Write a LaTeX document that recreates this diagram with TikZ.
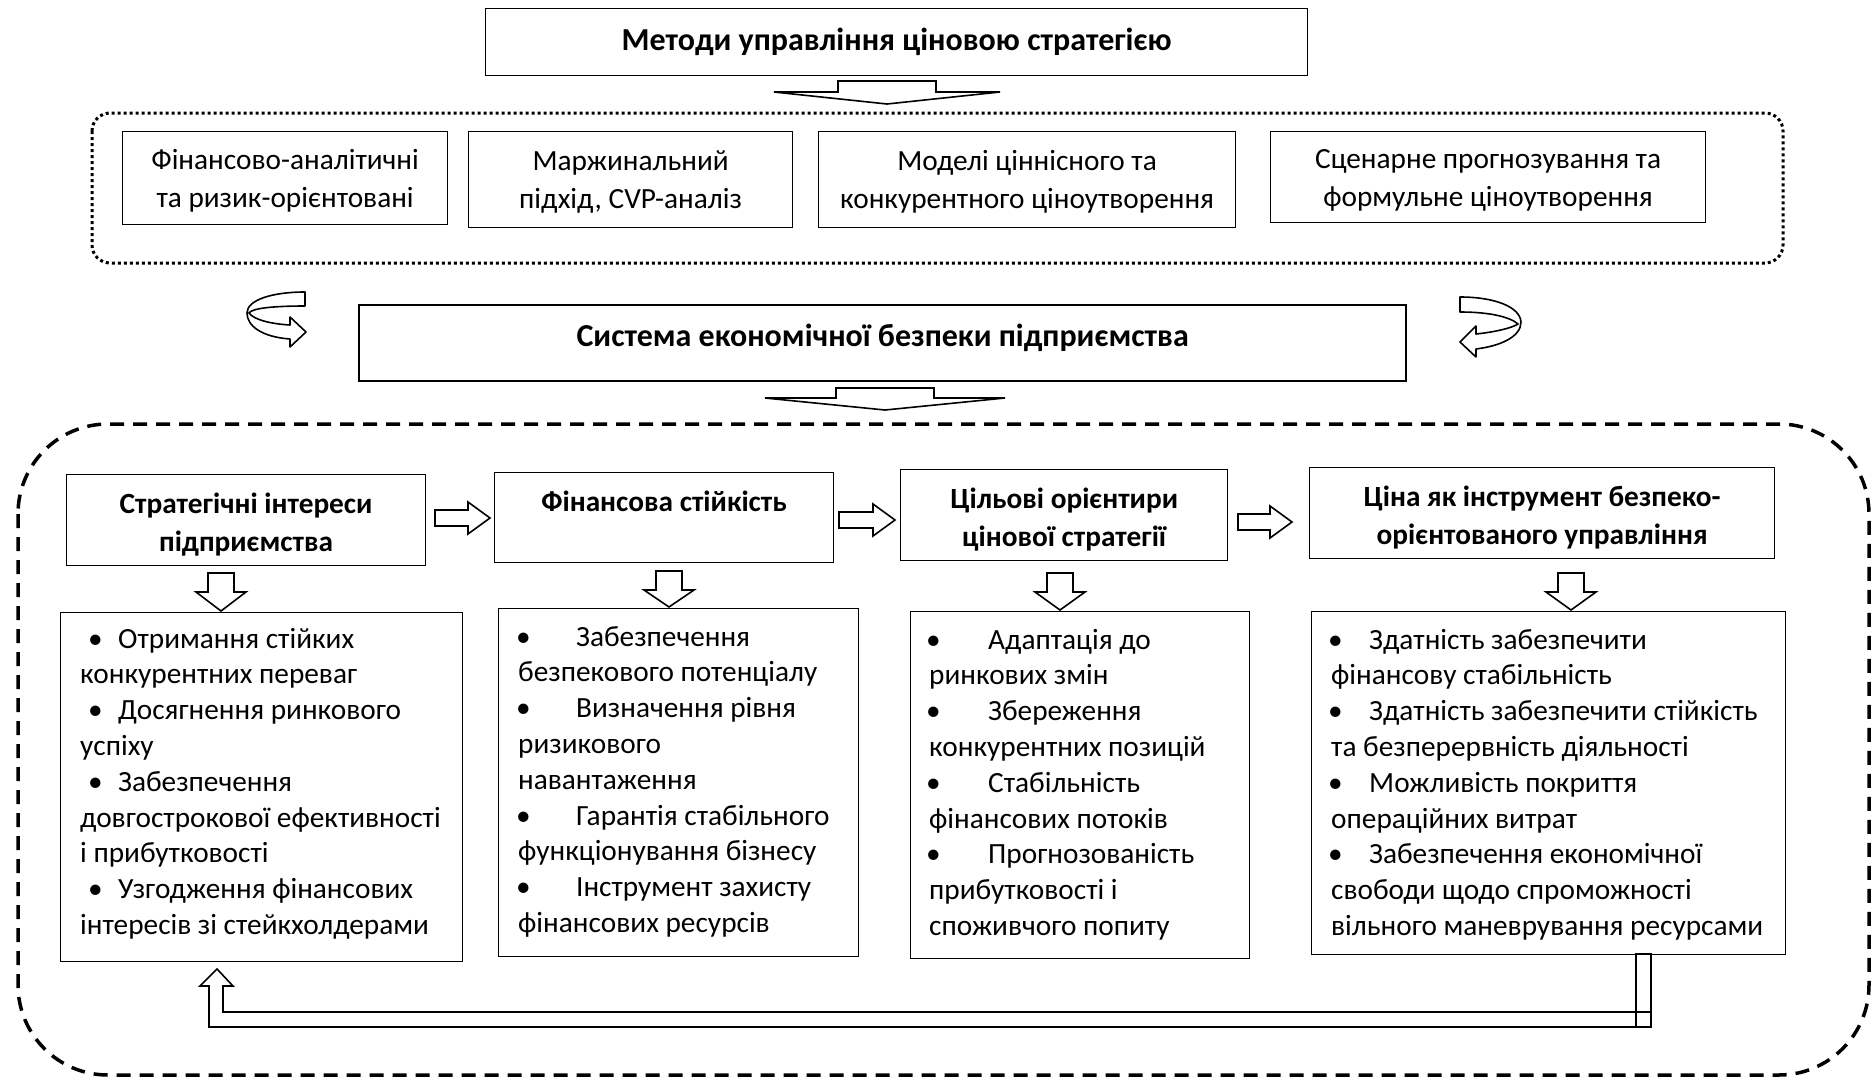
\documentclass[tikz,border=0pt]{standalone}
\usepackage{fontspec}
\setmainfont{Carlito}
\newcommand{\darr}[6]{% cx, top, shaft bottom, tip, shaft half, head half
  \draw[arr] (#1-#5,#2) -- (#1+#5,#2) -- (#1+#5,#3) -- (#1+#6,#3) -- (#1,#4) -- (#1-#6,#3) -- (#1-#5,#3) -- cycle;}
\newcommand{\rarr}[6]{% left x, cy, shaft end x, tip x, shaft half, head half
  \draw[arr] (#1,#2-#5) -- (#3,#2-#5) -- (#3,#2-#6) -- (#4,#2) -- (#3,#2+#6) -- (#3,#2+#5) -- (#1,#2+#5) -- cycle;}
\newcommand{\bt}[2]{\makebox[#2][l]{\hspace{#1}•}}
\newcommand{\hup}{\rule{0pt}{30pt}}
\newcommand{\mup}{\rule{0pt}{25pt}}
\begin{document}
\begin{tikzpicture}[x=1pt,y=-1pt,
  bx/.style={draw, line width=1.2pt, inner sep=0pt, align=center, anchor=north west, font=\fontsize{29.3}{38}\selectfont},
  hd/.style={bx, font=\bfseries\fontsize{29.3}{38}\selectfont},
  big/.style={bx, font=\bfseries\fontsize{32}{38}\selectfont},
  tx/.style={inner sep=0pt, anchor=base west, font=\fontsize{29.3}{35.8}\selectfont},
  arr/.style={draw, line width=1.6pt, line join=miter, fill=white},
  curv/.style={draw, line width=1.6pt, fill=white, line join=round}]
\fill[white] (0,0) rectangle (1872,1079);
\useasboundingbox (0,0) rectangle (1872,1079);

% top title
\node[big, minimum width=822pt, minimum height=67pt] (title) at (485,8) {Методи управління ціновою стратегією};
\darr{887}{81}{92}{104}{49}{113}

% dotted group
\draw[line width=3pt, dash pattern=on 3pt off 3pt, rounded corners=18pt] (92,113) rectangle (1783,263);
\node[bx, minimum width=325pt, minimum height=93pt] (m1) at (122,131) {\mup Фінансово-аналітичні\\та ризик-орієнтовані};
\node[bx, minimum width=324pt, minimum height=96pt] (m2) at (468,131) {\mup Маржинальний\\підхід, CVP-аналіз};
\node[bx, minimum width=417pt, minimum height=96pt] (m3) at (818,131) {\mup Моделі ціннісного та\\конкурентного ціноутворення};
\node[bx, minimum width=435pt, minimum height=91pt] (m4) at (1270,131) {\mup Сценарне прогнозування та\\формульне ціноутворення};

% curved arrows
\draw[curv] (305,292) -- (305,306) .. controls (275,306) and (252,308) .. (249,313)
  .. controls (254,320) and (272,324) .. (290,325) -- (290,317) -- (306,332) -- (290,347) -- (290,339)
  .. controls (262,337) and (247,326) .. (247,313) .. controls (247,300) and (272,292) .. (305,292) -- cycle;
\draw[curv] (1460,297) .. controls (1495,297) and (1520,307) .. (1521,322)
  .. controls (1521,337) and (1500,346) .. (1476,349) -- (1476,357) -- (1460,342) -- (1476,326) -- (1476,334)
  .. controls (1495,332) and (1512,328) .. (1518,324) .. controls (1510,317) and (1490,312) .. (1460,312) -- cycle;

% middle box
\node[big, line width=2.4pt, minimum width=1047pt, minimum height=76pt] (sys) at (358,304) {\rule[-16pt]{0pt}{16pt}Система економічної безпеки підприємства};
\darr{885}{388}{398}{410}{49}{120}

% dashed group
\draw[line width=3.5pt, dash pattern=on 14pt off 9pt, rounded corners=90pt] (18,424) rectangle (1869,1075);

% header boxes
\node[hd, minimum width=359pt, minimum height=91pt] (hA) at (66,474) {\hup Стратегічні інтереси\\підприємства};
\node[hd, minimum width=339pt, minimum height=90pt] (hB) at (494,472) {\hup Фінансова стійкість\\\vphantom{р}};
\node[hd, minimum width=327pt, minimum height=91pt] (hC) at (900,469) {\hup Цільові орієнтири\\цінової стратегії};
\node[hd, minimum width=465pt, minimum height=91pt] (hD) at (1309,467) {\hup Ціна як інструмент безпеко-\\орієнтованого управління};

\rarr{435}{518}{468}{490}{8}{16}
\rarr{839}{520}{873}{895}{8}{16}
\rarr{1238}{522}{1270}{1292}{8}{16}

% content boxes
\node[bx, minimum width=402pt, minimum height=349pt] (cA) at (60,612) {};
\node[bx, minimum width=360pt, minimum height=348pt] (cB) at (498,608) {};
\node[bx, minimum width=339pt, minimum height=347pt] (cC) at (910,611) {};
\node[bx, minimum width=474pt, minimum height=343pt] (cD) at (1311,611) {};

\darr{221}{573}{592}{611}{13}{25}
\darr{669}{571}{590}{607}{13}{25}
\darr{1060}{573}{592}{610}{13}{25}
\darr{1571}{573}{592}{610}{13}{25}

% texts A
\node[tx] (a1) at (80,648) {\bt{8pt}{38pt}Отримання стійких};
\node[tx] (a2) at (80,683.8) {конкурентних переваг};
\node[tx] (a3) at (80,719.6) {\bt{8pt}{38pt}Досягнення ринкового};
\node[tx] (a4) at (80,755.4) {успіху};
\node[tx] (a5) at (80,791.2) {\bt{8pt}{38pt}Забезпечення};
\node[tx] (a6) at (80,827) {довгострокової ефективності};
\node[tx] (a7) at (80,862.8) {і прибутковості};
\node[tx] (a8) at (80,898.6) {\bt{8pt}{38pt}Узгодження фінансових};
\node[tx] (a9) at (80,934.4) {інтересів зі стейкхолдерами};

% texts B
\node[tx] (b1) at (518,646) {\bt{-2pt}{58pt}Забезпечення};
\node[tx] (b2) at (518,681.8) {безпекового потенціалу};
\node[tx] (b3) at (518,717.6) {\bt{-2pt}{58pt}Визначення рівня};
\node[tx] (b4) at (518,753.4) {ризикового};
\node[tx] (b5) at (518,789.2) {навантаження};
\node[tx] (b6) at (518,825) {\bt{-2pt}{58pt}Гарантія стабільного};
\node[tx] (b7) at (518,860.8) {функціонування бізнесу};
\node[tx] (b8) at (518,896.6) {\bt{-2pt}{58pt}Інструмент захисту};
\node[tx] (b9) at (518,932.4) {фінансових ресурсів};

% texts C
\node[tx] (c1) at (929,649) {\bt{-3pt}{59pt}Адаптація до};
\node[tx] (c2) at (929,684.8) {ринкових змін};
\node[tx] (c3) at (929,720.6) {\bt{-3pt}{59pt}Збереження};
\node[tx] (c4) at (929,756.4) {конкурентних позицій};
\node[tx] (c5) at (929,792.2) {\bt{-3pt}{59pt}Стабільність};
\node[tx] (c6) at (929,828) {фінансових потоків};
\node[tx] (c7) at (929,863.8) {\bt{-3pt}{59pt}Прогнозованість};
\node[tx] (c8) at (929,899.6) {прибутковості і};
\node[tx] (c9) at (929,935.4) {споживчого попиту};

% texts D
\node[tx] (d1) at (1331,649) {\bt{-3pt}{38pt}Здатність забезпечити};
\node[tx] (d2) at (1331,684.8) {фінансову стабільність};
\node[tx] (d3) at (1331,720.6) {\bt{-3pt}{38pt}Здатність забезпечити стійкість};
\node[tx] (d4) at (1331,756.4) {та безперервність діяльності};
\node[tx] (d5) at (1331,792.2) {\bt{-3pt}{38pt}Можливість покриття};
\node[tx] (d6) at (1331,828) {операційних витрат};
\node[tx] (d7) at (1331,863.8) {\bt{-3pt}{38pt}Забезпечення економічної};
\node[tx] (d8) at (1331,899.6) {свободи щодо спроможності};
\node[tx] (d9) at (1331,935.4) {вільного маневрування ресурсами};

% feedback arrow
\draw[arr] (1651,1012) -- (223,1012) -- (223,986) -- (233,986) -- (217,969) -- (200,986) -- (209,986) -- (209,1027) -- (1651,1027) -- cycle;
\draw[line width=1.6pt] (1636,954) rectangle (1651,1027);
\end{tikzpicture}
\end{document}
